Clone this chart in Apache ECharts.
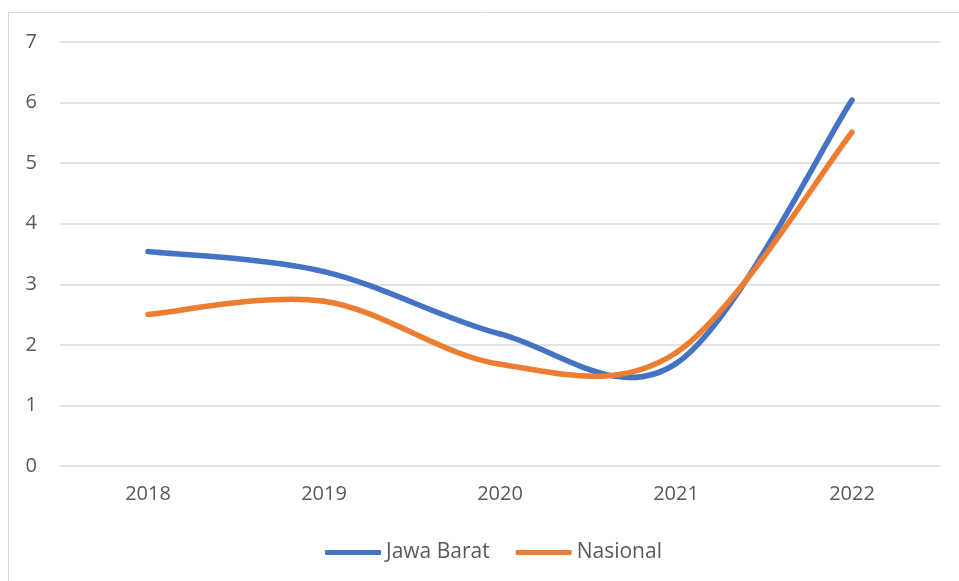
<!DOCTYPE html>
<html>
<head>
<meta charset="utf-8">
<script src="https://cdn.jsdelivr.net/npm/echarts@6/dist/echarts.min.js"></script>
<style>
  html, body { margin: 0; padding: 0; background: #fff; }
  #chart { width: 959px; height: 581px; }
</style>
</head>
<body>
<div id="chart"></div>
<script>
// Inflation by year: West Java vs national
const years = ['2018', '2019', '2020', '2021', '2022'];
const jawaBarat = [3.54, 3.21, 2.18, 1.69, 6.04];
const nasional = [2.5, 2.72, 1.68, 1.87, 5.51];
const yTicks = [0, 1, 2, 3, 4, 5, 6, 7];

const chart = echarts.init(document.getElementById('chart'));
const font = '"Open Sans", "Noto Sans", sans-serif';
const textColor = '#595959';

// Cardinal (Catmull-Rom) spline: one cubic segment per pair of neighbouring points,
// control points taken from the screen coordinates the axes give.
function smoothSegment(values, color) {
  return function (params, api) {
    const i = params.dataIndex;
    const n = values.length;
    if (i >= n - 1) return null;
    const pt = k => {
      const c = Math.max(0, Math.min(n - 1, k));
      return api.coord([c, values[c]]);
    };
    const p0 = pt(i - 1), p1 = pt(i), p2 = pt(i + 1), p3 = pt(i + 2);
    return {
      type: 'bezierCurve',
      shape: {
        x1: p1[0], y1: p1[1],
        x2: p2[0], y2: p2[1],
        cpx1: p1[0] + (p2[0] - p0[0]) / 6, cpy1: p1[1] + (p2[1] - p0[1]) / 6,
        cpx2: p2[0] - (p3[0] - p1[0]) / 6, cpy2: p2[1] - (p3[1] - p1[1]) / 6
      },
      style: { stroke: color, lineWidth: 5.5, fill: null, lineCap: 'round' }
    };
  };
}

chart.setOption({
  animation: false,
  graphic: [{
    type: 'rect',
    shape: { x: 8.5, y: 12.5, width: 1000, height: 1000 },
    style: { fill: 'none', stroke: '#d9d9d9', lineWidth: 1 },
    silent: true
  }],
  grid: { left: 60, right: 19, top: 42, bottom: 115 },
  legend: {
    top: 537,
    left: 320,
    itemWidth: 56,
    itemHeight: 5,
    itemGap: 26,
    icon: 'roundRect',
    textStyle: { color: textColor, fontSize: 21, fontFamily: font, padding: [0, 0, 0, 0] },
    data: ['Jawa Barat', 'Nasional']
  },
  xAxis: {
    type: 'category',
    data: years,
    boundaryGap: true,
    axisLine: { show: false },
    axisTick: { show: false },
    axisLabel: { color: textColor, fontSize: 20, fontFamily: font, margin: 18 }
  },
  yAxis: {
    type: 'value',
    min: yTicks[0],
    max: yTicks[yTicks.length - 1],
    interval: 1,
    axisLine: { show: false },
    axisTick: { show: false },
    splitLine: { lineStyle: { color: '#d9d9d9', width: 1.5 } },
    axisLabel: { color: textColor, fontSize: 20, fontFamily: font, margin: 23 }
  },
  series: [
    {
      name: 'Jawa Barat',
      type: 'custom',
      data: jawaBarat,
      encode: { y: 0 },
      renderItem: smoothSegment(jawaBarat, '#4472c4'),
      itemStyle: { color: '#4472c4' }
    },
    {
      name: 'Nasional',
      type: 'custom',
      data: nasional,
      encode: { y: 0 },
      renderItem: smoothSegment(nasional, '#ed7d31'),
      itemStyle: { color: '#ed7d31' }
    }
  ]
});
</script>
</body>
</html>
